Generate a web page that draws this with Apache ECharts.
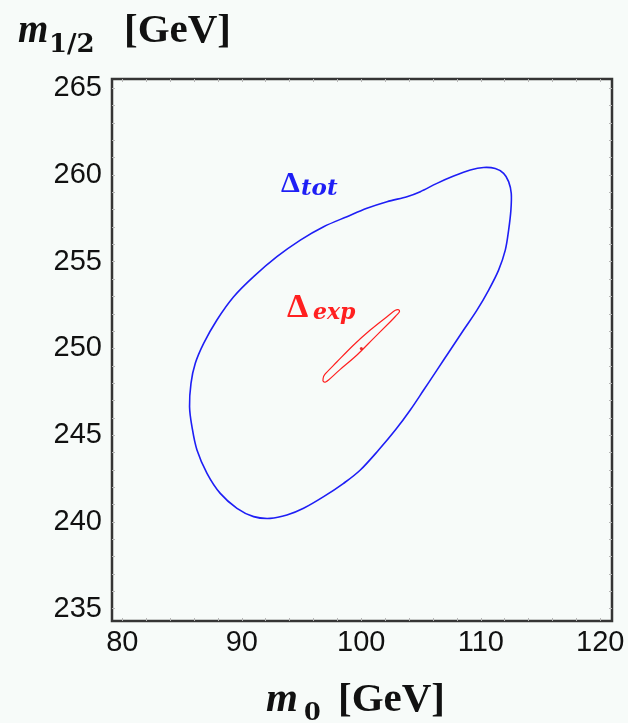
<!DOCTYPE html>
<html>
<head>
<meta charset="utf-8">
<script src="https://cdn.jsdelivr.net/npm/echarts@6/dist/echarts.min.js"></script>
<style>
html,body{margin:0;padding:0;background:#f7fbf9;}
#c{width:628px;height:723px;}
</style>
</head>
<body>
<div id="c"></div>
<script>
// ---- data ----
const xTickLabels = [80, 90, 100, 110, 120];
const yTickLabels = [235, 240, 245, 250, 255, 260, 265];
const xMinorTicks = [80, 82, 84, 86, 88, 90, 92, 94, 96, 98, 100, 102, 104, 106, 108, 110, 112, 114, 116, 118, 120];
const yMinorTicks = [235, 236, 237, 238, 239, 240, 241, 242, 243, 244, 245, 246, 247, 248, 249, 250, 251, 252, 253, 254, 255, 256, 257, 258, 259, 260, 261, 262, 263, 264, 265];

// Delta_tot contour (m0, m1/2), closed loop
const totM0 = [85.63, 85.75, 86.11, 86.81, 87.92, 89.32, 90.99, 92.94, 94.90, 96.85, 98.80, 100.47, 102.15, 103.82, 104.94, 106.33, 107.73, 109.12, 110.24, 111.21, 111.91, 112.33, 112.55, 112.52, 112.33, 112.05, 111.49, 110.66, 109.68, 108.56, 107.45, 106.33, 105.22, 104.10, 102.85, 101.45, 99.92, 98.52, 96.85, 95.17, 93.78, 92.38, 90.99, 89.60, 88.20, 87.09, 86.25, 85.83];
const totM12 = [246.64, 247.99, 249.14, 250.29, 251.64, 252.98, 254.14, 255.29, 256.25, 257.02, 257.60, 258.08, 258.46, 258.75, 259.04, 259.52, 259.94, 260.29, 260.44, 260.38, 260.10, 259.62, 258.94, 257.98, 256.83, 255.67, 254.52, 253.37, 252.21, 251.06, 249.91, 248.75, 247.60, 246.45, 245.29, 244.14, 242.99, 242.22, 241.45, 240.78, 240.39, 240.20, 240.30, 240.78, 241.64, 242.80, 244.14, 245.49];

// Delta_exp contour (m0, m1/2), closed loop
const expM0 = [96.80, 96.95, 97.97, 99.36, 100.75, 102.15, 102.85, 103.15, 103.18, 102.95, 102.43, 101.03, 99.64, 98.24, 97.26, 96.99, 96.82];
const expM12 = [248.22, 248.50, 249.23, 250.20, 251.06, 251.83, 252.20, 252.22, 252.10, 251.92, 251.54, 250.58, 249.62, 248.79, 248.18, 248.06, 248.10];

// best-fit point
const bestM0 = [100];
const bestM12 = [250];

// ---- build ----
const zip = (a, b) => a.map((v, i) => [v, b[i]]);
const chart = echarts.init(document.getElementById('c'), null, {renderer: 'canvas'});

const GRID = {left: 112, right: 16, top: 79, bottom: 102};
const labelFont = {fontFamily: '"Liberation Sans", Arial, sans-serif', fontSize: 29, color: '#111'};
const tickStyle = {show: true, inside: true, length: 3, lineStyle: {color: '#b5b5b5', width: 1}};

function txt(text, font, x, baseline, size, color) {
  return {
    type: 'text', silent: true,
    style: {text: text, font: font, x: x, y: baseline - 0.3 * size, fill: color, align: 'left', verticalAlign: 'middle'}
  };
}

// closed Catmull-Rom spline through the data points, placed with the axes (api.coord)
function makeLoopSeries(xs, ys, color, width) {
  const data = zip(xs, ys);
  return {
    type: 'custom', coordinateSystem: 'cartesian2d', data: data, z: 3, silent: true,
    renderItem: function (params, api) {
      if (params.dataIndex !== 0) return null;
      const p = data.map(d => api.coord(d));
      const n = p.length;
      let path = 'M' + p[0][0] + ' ' + p[0][1];
      for (let i = 0; i < n; i++) {
        const p0 = p[(i - 1 + n) % n], p1 = p[i], p2 = p[(i + 1) % n], p3 = p[(i + 2) % n];
        const c1x = p1[0] + (p2[0] - p0[0]) / 6, c1y = p1[1] + (p2[1] - p0[1]) / 6;
        const c2x = p2[0] - (p3[0] - p1[0]) / 6, c2y = p2[1] - (p3[1] - p1[1]) / 6;
        path += ' C' + c1x + ' ' + c1y + ' ' + c2x + ' ' + c2y + ' ' + p2[0] + ' ' + p2[1];
      }
      path += ' Z';
      return {type: 'path', shape: {pathData: path}, style: {fill: 'none', stroke: color, lineWidth: width}};
    }
  };
}

const option = {
  backgroundColor: '#f7fbf9',
  animation: false,
  grid: Object.assign({show: true, borderColor: '#353535', borderWidth: 2.5, backgroundColor: 'transparent'}, GRID),
  xAxis: [
    {type: 'value', min: 79.14, max: 120.98, position: 'bottom',
     axisLine: {show: false}, splitLine: {show: false},
     axisTick: Object.assign({customValues: xMinorTicks}, tickStyle),
     axisLabel: Object.assign({customValues: xTickLabels, margin: 7}, labelFont)},
    {type: 'value', min: 79.14, max: 120.98, position: 'top',
     axisLine: {show: false}, splitLine: {show: false},
     axisTick: Object.assign({customValues: xMinorTicks}, tickStyle),
     axisLabel: {show: false}}
  ],
  yAxis: [
    {type: 'value', min: 234.28, max: 265.54, position: 'left',
     axisLine: {show: false}, splitLine: {show: false},
     axisTick: Object.assign({customValues: yMinorTicks}, tickStyle),
     axisLabel: Object.assign({customValues: yTickLabels, margin: 10}, labelFont)},
    {type: 'value', min: 234.28, max: 265.54, position: 'right',
     axisLine: {show: false}, splitLine: {show: false},
     axisTick: Object.assign({customValues: yMinorTicks}, tickStyle),
     axisLabel: {show: false}}
  ],
  series: [
    makeLoopSeries(totM0, totM12, '#1e1ef5', 1.6),
    makeLoopSeries(expM0, expM12, '#ff2020', 1.2),
    {type: 'scatter', name: 'best', data: zip(bestM0, bestM12), symbolSize: 3,
     itemStyle: {color: '#e00000'}, z: 4}
  ],
  graphic: [
    // y-axis title
    txt('m', 'italic bold 39px "Liberation Serif", serif', 18, 44, 39, '#111'),
    txt('1/2', 'bold 26px "DejaVu Serif", serif', 49, 53, 26, '#111'),
    txt('[GeV]', 'bold 41px "Liberation Serif", serif', 124, 44, 41, '#111'),
    // x-axis title
    txt('m', 'italic bold 41px "Liberation Serif", serif', 266, 713, 41, '#111'),
    txt('0', 'bold 24px "DejaVu Serif", serif', 304, 721, 24, '#111'),
    txt('[GeV]', 'bold 41px "Liberation Serif", serif', 338, 713, 41, '#111'),
    // contour labels
    txt('\u0394', 'bold 30px "Liberation Serif", serif', 281, 193, 30, '#1e1ef5'),
    txt('tot', 'italic bold 23px "DejaVu Serif", serif', 301, 196, 23, '#1e1ef5'),
    txt('\u0394', 'bold 34px "Liberation Serif", serif', 287, 318, 34, '#ff2020'),
    txt('exp', 'italic bold 22px "DejaVu Serif", serif', 313, 320, 22, '#ff2020')
  ]
};
chart.setOption(option);
</script>
</body>
</html>
